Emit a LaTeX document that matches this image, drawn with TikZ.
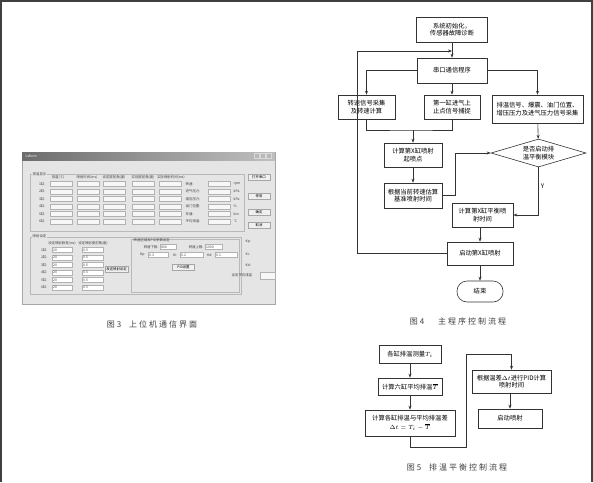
\documentclass[tikz,border=0pt]{standalone}
\usepackage{fontspec}
\setmainfont{Noto Sans CJK SC}
\newfontfamily\capfont[LetterSpace=25]{Noto Sans CJK SC}
\usetikzlibrary{shapes.geometric, arrows.meta, positioning}

\begin{document}
\begin{tikzpicture}[
    x=1pt, y=-1pt,
    font=\fontsize{6.3}{7.6}\selectfont,
    box/.style={draw=black!80, line width=0.6pt, align=center, inner sep=1.5pt,
                minimum width=57pt, minimum height=24pt},
    dec/.style={draw=black!80, line width=0.6pt, diamond, align=center, aspect=3.4,
                inner sep=0pt, minimum width=95pt, minimum height=28pt},
    term/.style={draw=black!80, line width=0.6pt, rounded corners=10pt,
                 minimum width=46pt, minimum height=21pt},
    arr/.style={-{Stealth[length=4pt, width=3pt]}, line width=0.6pt, draw=black!80},
    ln/.style={line width=0.6pt, draw=black!80},
    captxt/.style={font=\capfont\fontsize{8}{9}\selectfont, text=black!75},
    % screenshot parts
    gtxt/.style={font=\fontsize{3.4}{4}\selectfont, inner sep=0.5pt, text=black!75},
    fld/.style={draw=gray!60, fill=gray!6, line width=0.3pt},
    wfld/.style={draw=gray!60, fill=white, line width=0.3pt},
    btn/.style={draw=gray!70, fill=gray!12, line width=0.4pt, minimum width=22pt,
                minimum height=6pt, inner sep=0pt, font=\fontsize{3.4}{4}\selectfont},
    grp/.style={draw=gray!55, line width=0.3pt}
]
\useasboundingbox (0,0) rectangle (593,482);
\fill[white] (0,0) rectangle (593,482);
% page frame
\draw[gray!50!black, line width=2pt] (1,482) -- (1,1) -- (592,1) -- (592,482);

%%% Fig. 3: host interface (screenshot)
\draw[gray!70, fill=gray!20, line width=0.6pt] (22,152) rectangle (275,304);
\shade[left color=gray!85!black, right color=gray!50] (22,152) rectangle (275,160);
\node[gtxt, anchor=west, text=white] (title) at (25,156) {Lsform};
\foreach \bx in {257,263,269}
  \draw[gray!30, fill=gray!55, line width=0.3pt] (\bx-2.5,153.5) rectangle ++(5,5);

% temperature display group
\draw[grp] (30,174) rectangle (244,231);
\node[gtxt, fill=gray!20, anchor=west] (tgrp) at (32,174) {排温显示};
\node[gtxt] (h1) at (58,177) {排温(℃)};
\node[gtxt] (h2) at (87,177) {喷射时间(ms)};
\node[gtxt] (h3) at (114,177) {设定提前角(度)};
\node[gtxt] (h4) at (143,177) {实际提前角(度)};
\node[gtxt] (h5) at (171,177) {实际喷射时间(ms)};
\foreach \r [count=\i] in {184,191.5,199,206.5,214,221.5} {
  \node[gtxt, anchor=east] (row\i) at (46,\r) {\i 缸:};
  \foreach \c in {50,77,103,132,159}
    \draw[fld] (\c,\r-2.5) rectangle ++(22,5);
}
\foreach \lab/\unit [count=\i] in {转速:/rpm, 进气压力:/kPa, 增压压力:/kPa,
                                   油门位置:/\%, 车速:/km/h, 平均排温:/℃} {
  \node[gtxt, anchor=west] (sl\i) at (185,176.5+7.5*\i) {\lab};
  \draw[fld] (208,174+7.5*\i) rectangle ++(22,5);
  \node[gtxt, anchor=west] (su\i) at (233,176.5+7.5*\i) {\unit};
}
\node[btn] (bopen) at (259,177) {打开串口};
\node[btn] (bstop) at (259,196) {停用};
\node[btn] (bok)   at (259,212) {确定};
\node[btn] (bcan)  at (259,225) {取消};

% injection settings group
\draw[grp] (30,237) rectangle (241,294);
\node[gtxt, fill=gray!20, anchor=west] (igrp) at (32,236) {喷射设定};
\node[gtxt] (ih1) at (62,243) {设定喷射脉宽(ms)};
\node[gtxt] (ih2) at (93,243) {设定喷射提前角(度)};
\foreach \r [count=\i] in {250,257.5,265,272.5,280,287.5} {
  \node[gtxt, anchor=east] (irow\i) at (48,\r) {\i 缸:};
  \draw[wfld] (52,\r-2.5) rectangle ++(20,5);
  \node[gtxt, anchor=west] at (52.5,\r) {20};
  \draw[wfld] (82,\r-2.5) rectangle ++(21,5);
  \node[gtxt, anchor=west] at (82.5,\r) {0.5};
}
\node[btn, minimum width=23pt] (bsend) at (116.5,269) {发送喷射设定};

\draw[grp] (131,239) rectangle (239,292);
\node[gtxt, anchor=west] (pgrp) at (133,240.5) {转速区域及PID参数设定};
\node[gtxt, anchor=east] (nlo) at (159,247) {转速下限:};
\draw[wfld] (160,244.5) rectangle ++(16,5);
\node[gtxt, anchor=west] at (160.5,247) {800};
\node[gtxt, anchor=east] (nhi) at (204,247) {转速上限:};
\draw[wfld] (205,244.5) rectangle ++(17,5);
\node[gtxt, anchor=west] at (205.5,247) {1000};
\foreach \lab/\px/\pw/\val [count=\i] in {Kp:/148/20/0.3, Ki:/180/23/0.2, Kd:/215/22/0.1} {
  \node[gtxt, anchor=east] (pk\i) at (\px-2,255) {\lab};
  \draw[wfld] (\px,252.5) rectangle ++(\pw,5);
  \node[gtxt, anchor=west] at (\px+0.5,255) {\val};
}
\node[btn] (bpid) at (183.5,267) {PID设置};

% right-hand readout
\foreach \lab/\ry [count=\i] in {Kp:/242, Ki:/254, Kd:/265}
  \node[gtxt, anchor=west] (rk\i) at (245,\ry) {\lab};
\node[gtxt, anchor=west] (rset) at (231,275.5) {设定平均排温};
\draw[fld] (260,272) rectangle ++(15,7);

\node[captxt] (cap3) at (152,324) {图3\hspace{8pt}上位机通信界面};

%%% Fig. 4: main program flow
\node[box, minimum width=71pt, minimum height=25pt] (init) at (452,29.5) {系统初始化，\\传感器故障诊断};
\coordinate (join) at (452,51);
\coordinate (back) at (357,51);
\node[box, minimum width=70pt, minimum height=25pt] (comm) at (452,70.5) {串口通信程序};
\node[box] (speed) at (366.5,107) {转速信号采集\\及转速计算};
\node[box, minimum width=56pt] (tdc) at (452,107) {第一缸进气上\\止点信号捕捉};
\node[box, minimum width=91pt, minimum height=28pt] (sig) at (537.5,109) {排温信号、爆震、油门位置、\\增压压力及进气压力信号采集};
\coordinate (mrg) at (413,130);
\node[box, minimum width=58pt] (start) at (413,155) {计算第X缸喷射\\起喷点};
\node[box, minimum width=58pt, minimum height=25pt] (base) at (413,195.5) {根据当前转速估算\\基准喷射时间};
\node[dec] (chk) at (538.5,153) {是否启动排\\温平衡模块};
\node[box, minimum width=61pt] (bal) at (482.5,215) {计算第X缸平衡喷\\射时间};
\node[box, minimum width=66pt, minimum height=23pt] (fire) at (480,253.5) {启动第X缸喷射};
\node[term] (stop) at (480,291.5) {结束};

\draw[arr] (init) -- (comm);
\draw[arr] (fire.west) -| (back) -- (join);
\draw[arr] (comm.west) -| (speed.north);
\draw[arr] (comm) -- (tdc);
\draw[arr] (comm.east) -| (sig.north);
\draw[ln] (speed.south) |- (mrg) -| (tdc.south);
\draw[arr] (mrg) -- (start);
\draw[arr] (start) -- (base);
\draw[arr] (base.east) -- ++(13,0) |- (chk.west);
\draw[arr] (sig) -- (chk);
\draw[arr] (chk.south) |- node[pos=0.2, right, inner sep=2pt] {Y} (bal.east);
\draw[arr] (fire.north |- bal.south) -- (fire.north);
\draw[arr] (fire) -- (stop);

\node[captxt] (cap4) at (458,321) {图4\hspace{14pt}主程序控制流程};

%%% Fig. 5: exhaust temperature balance flow
\node[box, minimum width=62pt, minimum height=18pt] (meas) at (410,354) {各缸排温测量$T_i$};
\node[box, minimum width=64pt, minimum height=17pt] (avg) at (410,386.5) {计算六缸平均排温$\overline{T}$};
\node[box, minimum width=90pt, minimum height=26pt] (diff) at (410,423) {计算各缸排温与平均排温差\\[1pt]$\Delta t=T_i-\overline{T}$};
\coordinate (low) at (466,447);
\coordinate (up) at (466,354);
\node[box, minimum width=79pt, minimum height=23pt] (pid) at (511.5,381.5) {根据温差$\Delta t$进行PID计算\\喷射时间};
\node[box, minimum width=64pt, minimum height=19pt] (inj) at (510,418.5) {启动喷射};

\draw[arr] (meas) -- (avg);
\draw[arr] (avg) -- (diff);
\draw[arr] (diff.south) |- (low) -- (up) -| (pid.north);
\draw[arr] (inj.north |- pid.south) -- (inj.north);

\node[captxt] (cap5) at (457,467) {图5\hspace{8pt}排温平衡控制流程};
\end{tikzpicture}
\end{document}
